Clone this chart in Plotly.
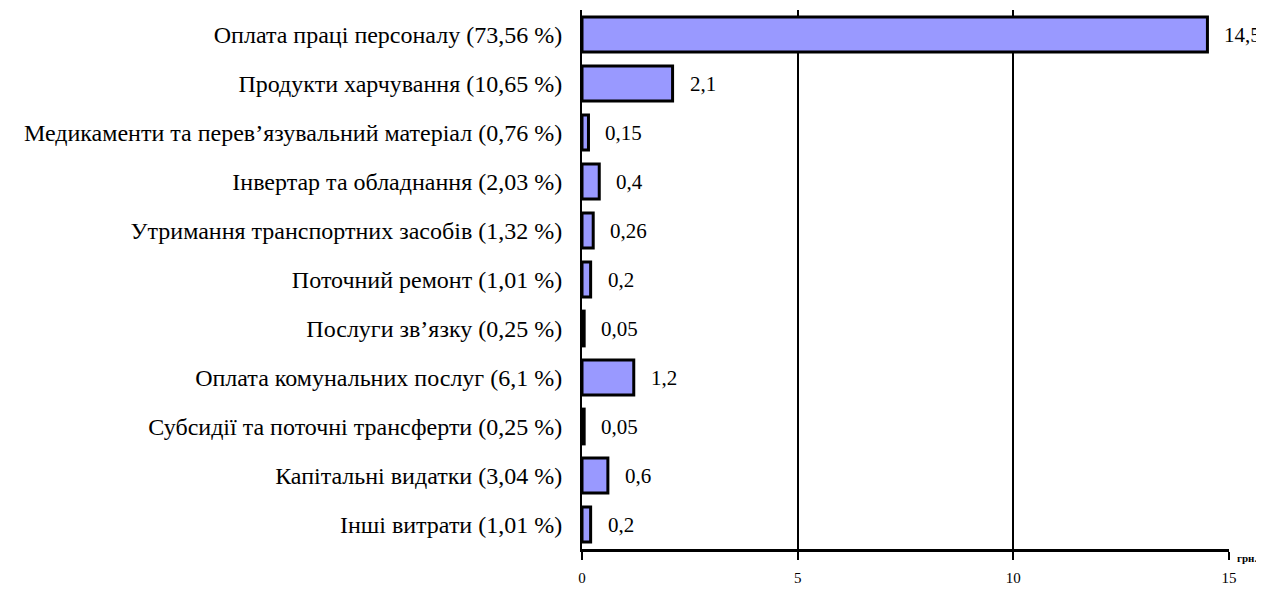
import plotly.graph_objects as go

# Структура видатків (грн.)
categories = [
    'Оплата праці персоналу (73,56 %)',
    'Продукти харчування (10,65 %)',
    'Медикаменти та перев’язувальний матеріал (0,76 %)',
    'Інвертар та обладнання (2,03 %)',
    'Утримання транспортних засобів (1,32 %)',
    'Поточний ремонт (1,01 %)',
    'Послуги зв’язку (0,25 %)',
    'Оплата комунальних послуг (6,1 %)',
    'Субсидії та поточні трансферти (0,25 %)',
    'Капітальні видатки (3,04 %)',
    'Інші витрати (1,01 %)',
]
values = [14.5, 2.1, 0.15, 0.4, 0.26, 0.2, 0.05, 1.2, 0.05, 0.6, 0.2]
value_labels = ['14,5', '2,1', '0,15', '0,4', '0,26', '0,2', '0,05', '1,2', '0,05', '0,6', '0,2']
x_ticks = [0, 5, 10, 15]

font_name = 'Liberation Serif'

fig = go.Figure()
fig.add_trace(go.Bar(
    x=values,
    y=categories,
    orientation='h',
    width=0.71,
    marker=dict(color='#9999FF', line=dict(color='black', width=3)),
))

# підписи значень праворуч від стовпчиків
for v, lab, cat in zip(values, value_labels, categories):
    fig.add_annotation(
        x=v, y=cat, text=lab, showarrow=False,
        xanchor='left', xshift=15,
        font=dict(family=font_name, size=21, color='black'),
    )

fig.add_annotation(
    x=1.0, y=0, xref='paper', yref='paper', text='<b>грн.</b>',
    showarrow=False, xanchor='left', yanchor='top', xshift=6, yshift=-1,
    font=dict(family=font_name, size=11, color='black'),
)

# сторінка має відступ 8px, тому фігура трохи менша за вікно
fig.update_layout(
    width=1256, height=583,
    margin=dict(l=574, r=35, t=2, b=42),
    template='simple_white',
    plot_bgcolor='white', paper_bgcolor='white',
    showlegend=False,
)
fig.update_xaxes(
    range=[0, 15], tickvals=x_ticks, ticktext=[str(t) for t in x_ticks],
    showgrid=True, gridcolor='black', gridwidth=2,
    showline=True, linecolor='black', linewidth=3,
    ticks='outside', ticklen=8, tickwidth=2, tickcolor='black',
    tickfont=dict(family=font_name, size=15, color='black'),
    ticklabelstandoff=5,
    zeroline=False, automargin=False,
)
fig.update_yaxes(
    autorange='reversed', showgrid=False,
    showline=True, linecolor='black', linewidth=2,
    ticks='',
    tickfont=dict(family=font_name, size=24, color='black'),
    ticklabelstandoff=13, automargin=False,
)

fig.write_html('out.html')
